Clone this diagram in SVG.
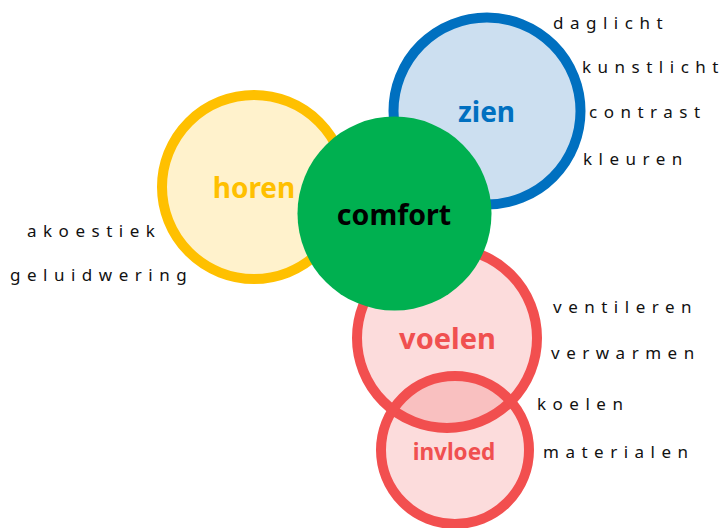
<svg xmlns="http://www.w3.org/2000/svg" width="724" height="528" viewBox="0 0 724 528">
  <style>
    .ring { stroke-width: 10; }
    .title { font-family: "Noto Sans", "Open Sans", sans-serif; font-weight: bold; text-anchor: middle; }
    .item { font-family: "Noto Sans", "Open Sans", sans-serif; font-size: 17px; fill: #111111; letter-spacing: 6.5px; }
    .red { stroke: #F24F4F; fill: #F25050; fill-opacity: 0.2; }
  </style>
  <rect width="724" height="528" fill="#ffffff"/>

  <g id="horen">
    <circle class="ring" cx="254" cy="187" r="92" fill="#FFF2CC" stroke="#FFC000"/>
    <text class="title" x="254" y="198" font-size="28" fill="#FFC000">horen</text>
  </g>

  <g id="zien">
    <circle class="ring" cx="487" cy="111" r="93.5" fill="#CCDFF0" stroke="#0070C0" stroke-width="9"/>
    <text class="title" x="486.5" y="122" font-size="28" fill="#0070C0">zien</text>
  </g>

  <g id="voelen">
    <circle class="ring red" cx="447" cy="338" r="90"/>
    <text class="title" x="447.5" y="349" font-size="29" fill="#F05050">voelen</text>
  </g>

  <g id="invloed">
    <circle class="ring red" cx="455" cy="450" r="74"/>
    <text class="title" x="454" y="460" font-size="22.5" fill="#F05050">invloed</text>
  </g>

  <g id="comfort">
    <circle cx="394.5" cy="213.5" r="97" fill="#00B050"/>
    <text class="title" x="394" y="225" font-size="28.5" fill="#000000">comfort</text>
  </g>

  <!-- aspect lists beside each circle -->
  <g id="labels-horen">
    <text class="item" x="27" y="237">akoestiek</text>
    <text class="item" x="10" y="281">geluidwering</text>
  </g>
  <g id="labels-zien">
    <text class="item" x="553" y="29">daglicht</text>
    <text class="item" x="582" y="73" letter-spacing="6.1">kunstlicht</text>
    <text class="item" x="589" y="118">contrast</text>
    <text class="item" x="583" y="165">kleuren</text>
  </g>
  <g id="labels-voelen">
    <text class="item" x="553" y="313">ventileren</text>
    <text class="item" x="551" y="359">verwarmen</text>
    <text class="item" x="537" y="410">koelen</text>
    <text class="item" x="543" y="458">materialen</text>
  </g>
</svg>
